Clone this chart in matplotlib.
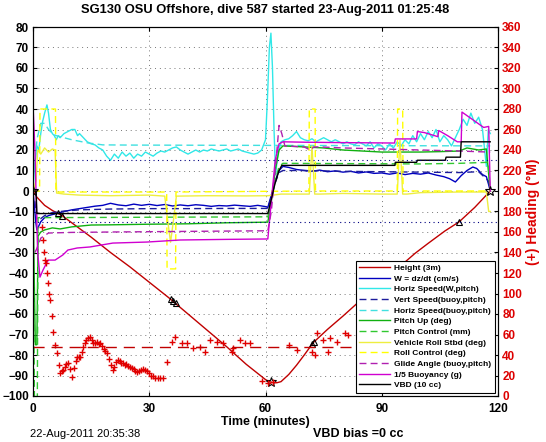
import matplotlib
matplotlib.use('Agg')
import matplotlib.pyplot as plt

plt.rcParams['font.family'] = ['Liberation Sans', 'DejaVu Sans']
plt.rcParams['font.weight'] = 'bold'
plt.rcParams['axes.titleweight'] = 'bold'
plt.rcParams['axes.labelweight'] = 'bold'

# ---- data (time in minutes) ----
height_t = [0, 1, 3, 5, 7.5, 10, 15, 20, 25, 30, 35, 40, 45, 50, 55, 58, 60, 61, 62, 63, 64,
            66, 68, 70, 72.3, 76, 80, 85, 90, 95, 98.6, 102, 106.3, 110, 114, 118]
height = [0, -3, -7, -9.5, -12, -15.5, -22.5, -30, -37, -44.5, -52, -60, -68, -76, -84.5, -89, -92,
          -93, -93.5, -93.5, -93, -89.5, -85, -80, -74, -67.5, -61, -52.5, -44.5, -36.3, -30.4,
          -25.5, -19.5, -15, -8, 0]

# event markers on the height trace
tri_t = [6.5, 7.5, 35.6, 36.2, 36.8, 72.0, 72.5, 110]
tri_v = [-10.5, -12, -52.5, -53.5, -54.5, -74.5, -73.5, -15]
star_t = [0, 61.5, 118]
star_v = [0, -93, 0]

# heading (right axis, deg M)
hd_t = [2.3, 2.5, 2.8, 3.1, 3.3, 3.6, 3.9, 4.1, 4.4, 4.8, 5.2, 5.7, 6.2, 6.6, 7.0, 7.4, 7.7, 8.2,
        8.6, 9.0, 9.5, 10.1, 10.6, 11.0, 11.4, 11.8, 12.1, 12.6, 13.0, 13.4, 13.8, 14.2, 14.7,
        15.1, 15.5, 16.0, 16.5, 17.0, 17.3, 17.8, 18.3, 18.7, 19.1, 19.6, 20.1, 20.6, 21.0, 21.5,
        21.9, 22.4, 22.8, 23.2, 23.7, 24.1, 24.6, 25.0, 25.5, 26.0, 26.4, 26.8, 27.3, 27.8, 28.3,
        28.9, 29.4, 30.0, 30.5, 31.0, 31.6, 32.2, 32.8, 33.5, 34.6, 35.9, 36.6, 38.5, 39.7, 41.3,
        43.1, 44.4, 45.7, 47.5, 49.0, 51.4, 51.6, 53.4, 54.7, 56.0, 59.1, 60.6, 62.0, 66.0, 68.0,
        72.0, 72.8, 73.3, 74.8, 76.1, 76.6, 78.5, 80.5, 81.3]
hd = [165, 152, 140, 133, 130, 120, 110, 100, 94, 78, 62, 50, 42, 30, 22, 24, 25, 28, 31, 32, 26,
      18.5, 27, 34, 38, 38, 38, 43, 48, 52, 55, 57, 58, 55, 52, 52, 53, 51, 52, 49, 46, 44, 42, 36,
      30, 25, 28, 33, 35, 34, 32, 32, 30, 31, 29, 28, 27, 26, 24, 23.5, 24, 25, 26, 25.5, 24, 22,
      20, 19.5, 18, 18, 17.5, 17.6, 33, 52.7, 57.6, 51.7, 51.7, 46.8, 47.8, 42.9, 54.6, 52.7, 51.7,
      42.9, 46.8, 54.6, 51.7, 51.7, 15, 12.7, 14, 50, 45, 42.9, 40, 61.5, 54.6, 42.9, 56.6, 52.7,
      61.5, 59.5]
heading_desired = 48

w_t = [0, 0.3, 0.7, 1, 1.5, 2, 3, 4, 5, 6, 8, 10, 12, 14, 16, 18, 20, 22, 24, 26, 28, 30, 32, 34,
       36, 38, 40, 42, 44, 46, 48, 50, 52, 54, 56, 58, 60, 60.6, 61.5, 62.5, 63.5, 64.5, 66, 68,
       70, 72, 74, 76, 78, 80, 82, 84, 86, 88, 90, 92, 94, 96, 98, 100, 102, 104, 106, 107.5, 109,
       110.5, 112, 113.5, 114.5, 116, 117, 117.6, 118]
w = [0, -6, -15, -19, -17, -15, -13, -12, -11.5, -11, -10, -9.2, -8.6, -8.0, -7.4, -7.0, -6.0,
     -6.8, -7.2, -6.4, -7.0, -6.5, -7.1, -6.6, -7.3, -6.8, -7.2, -6.7, -7.0, -7.5, -7.1, -7.3,
     -6.9, -7.2, -7.5, -7.0, -7.6, -8.0, -2, 5, 10, 12, 11.5, 10.5, 10, 9.6, 10.2, 9.4, 9.8, 9.2,
     9.6, 8.8, 9.3, 8.6, 8.8, 8.2, 8.8, 8.0, 8.6, 8.2, 8.8, 7.8, 7.0, 6.0, 4.4, 7.5, 10, 11.7, 11,
     8, 7, 3, 0]
w_limit = 15

vs_t = [0.5, 1, 2, 3, 5, 8, 12, 20, 30, 40, 50, 60.6, 61.5, 62.5, 63.5, 64.5, 70, 80, 90, 100,
        110, 115, 117.5, 118]
vs = [-5, -14, -13.5, -12, -10.5, -9.8, -9.2, -8.8, -8.6, -8.6, -8.5, -8.5, -3, 4, 9, 10, 10, 9.6,
      9.4, 9.2, 9.0, 9.4, 5, 0]

hs_t = ([0, 0.5, 1, 1.5, 2, 2.5, 3, 3.6, 4, 4.5, 5, 5.5, 6, 6.5, 7, 8, 9, 10, 10.8, 11.5]
        + list(range(12, 60))
        + [60, 60.5, 61, 61.4, 61.8, 62.2, 62.6, 63.2, 64]
        + list(range(65, 118))
        + [117.5, 118])
hs = ([0, 15, 22, 20, 28, 34, 38, 42, 38, 30, 28, 27, 25, 27, 26, 28, 29, 30, 30, 27]
      + [28, 26, 24, 23, 22.5, 21, 20, 17, 15, 18, 16, 19, 17, 18.5, 16, 18, 17, 19, 18, 17,
         18.5, 19.5, 19, 20, 21, 21.5, 20, 19, 18, 19, 20, 19, 20, 19.5, 20.5, 20, 19.5, 20,
         20.5, 19.5, 20, 20.5, 19.5, 19, 18.5, 18, 18.5, 20]
      + [25, 45, 70, 77, 60, 30, 8, 18, 24]
      + [25, 25.5, 27, 29, 26, 25, 24.5, 25.5, 24, 25,
         26, 25, 24, 25, 24, 23, 24, 23, 22.5, 24,
         23, 22, 24, 21, 23, 22, 20, 23, 21, 24,
         22, 25, 23, 27, 24, 28, 25, 29, 26, 30,
         24, 27, 25, 22, 26, 30, 35, 32, 38, 33,
         36, 30, 12]
      + [30, 28])

hb_t = [0.5, 1, 2, 3, 4, 5, 6, 8, 10, 14, 18, 25, 118]
hb = [10, 25, 33, 33, 30, 28, 27, 26, 25, 23.5, 22.5, 22.4, 22]

pu_t = [0, 0.3, 0.6, 1.0, 1.3, 2, 3, 5, 7, 10, 15, 20, 30, 40, 50, 60.6, 61.5, 62.5, 63.5, 64.5,
        70, 75, 80, 85, 90, 100, 105, 110, 112, 115, 117, 117.5, 118]
pu = [0, -40, -75, -75, -22, -20, -19, -18, -18.5, -17.5, -16.6, -16.5, -16.2, -16, -15.5, -15.2,
      -5, 10, 20, 22, 21.5, 21, 20, 19.5, 19, 19, 19.2, 19.5, 21, 20, 20.5, 10, 0]

pc_t = [0, 0.4, 1.1, 1.3, 60.6, 61.5, 62.5, 63.5, 64.5, 100, 110, 117.5, 118]
pc = [0, -110, -110, -13, -12.6, -5, 5, 12, 13.5, 13.2, 13.5, 14, 0]

vr_t = [0, 0.8, 1.2, 2, 3, 4, 5, 5.7, 6.1, 8, 12, 20, 30, 34, 34.8, 35.5, 36.2, 37, 45, 55, 60.6,
        62, 64, 70, 71.3, 72, 72.7, 74, 80, 90, 94, 94.7, 95.4, 96.5, 100, 110, 117, 117.6, 118]
vr = [0, 5, 20, 18, 21, 19, 20.5, 20, -1, -1.5, -2, -2.3, -2, -2.5, -15, -25, -15, -2.5, -2.3,
      -2.4, -2.3, -2, -1.5, -1.5, -1.5, 22, -1.5, -1.5, -1.2, -1.5, -1.5, 25, -1.5, -1.5, -0.8,
      -0.5, -0.5, -10, -10]

rc_t = [0, 1.7, 1.8, 5.8, 5.9, 34.5, 34.6, 36.8, 36.9, 71.2, 71.3, 72.8, 72.9, 94.0, 94.1, 95.4,
        95.5, 118]
rc = [0, 0, 40, 40, -0.5, -0.5, -38, -38, -0.5, 0, 40, 40, 0, 0, 40, 40, 0, 0]

ga_t = [0.5, 1, 2, 4, 10, 20, 40, 60.6, 61.5, 62.5, 63.5, 64.2, 65, 70, 71.5, 72.5, 74, 80, 90,
        100, 110, 117.5, 118]
ga = [-30, -28, -23, -20.5, -20.2, -20, -19.7, -19.4, -10, 10, 32, 28, 22, 21.5, 20, 21.5, 21.5,
      21, 20.5, 20, 19.5, 19, 19]

bu_t = [0, 0.5, 1.2, 1.8, 2.6, 3.9, 5.7, 7.7, 9, 11.4, 14.7, 20.6, 29.4, 38, 50, 60.6, 61.5, 62.5,
        63.5, 64.5, 70, 80, 93.3, 93.5, 99, 99.2, 101, 104.5, 104.7, 107, 109.5, 110.5, 110.7,
        113.7, 116.3, 117.6, 118]
bu = [42, 20, -30, -42, -38.5, -33.7, -33.7, -31.2, -28.8, -27.8, -27.3, -25.4, -24.9, -23.9,
      -23.6, -23.4, -5, 15, 23, 24, 23.8, 23.6, 23.4, 25.4, 25.4, 29, 28.5, 26.5, 29.5, 27, 24,
      24, 38.5, 34.5, 31, 31.5, 0]

vbd_t = [0, 0.8, 1.0, 60.6, 61.5, 62.5, 63.5, 64.2, 93.4, 93.5, 99, 99.2, 106.4, 106.6, 110.3,
         110.5, 118]
vbd = [0, 0, -11, -11, -4, 4, 10, 12.5, 12.5, 14, 14, 15, 15, 16.5, 16.5, 24, 24]

# ---- figure ----
fig = plt.figure(figsize=(5.46, 4.42), dpi=100)
ax = fig.add_axes([33 / 546, 1 - 396 / 442, 465 / 546, 369 / 442])
ax2 = ax.twinx()

dash = (5, 3)
lw = 1.0
h = []
h += ax.plot(height_t, height, '-', color='#c00000', lw=lw, label='Height (3m)')
h += ax.plot(w_t, w, '-', color='#0000c0', lw=lw, label='W = dz/dt (cm/s)')
h += ax.plot(hs_t, hs, '-', color='#30e8e8', lw=lw, label='Horiz Speed(W,pitch)')
h += ax.plot(vs_t, vs, '--', dashes=dash, color='#1c1c9c', lw=lw, label='Vert Speed(buoy,pitch)')
h += ax.plot(hb_t, hb, '--', dashes=dash, color='#40e0e0', lw=lw, label='Horiz Speed(buoy,pitch)')
h += ax.plot(pu_t, pu, '-', color='#10b010', lw=lw, label='Pitch Up (deg)')
h += ax.plot(pc_t, pc, '--', dashes=dash, color='#30c830', lw=lw, label='Pitch Control (mm)')
h += ax.plot(vr_t, vr, '-', color='#eeee40', lw=lw, label='Vehicle Roll Stbd (deg)')
h += ax.plot(rc_t, rc, '--', dashes=dash, color='#ffff00', lw=lw, label='Roll Control (deg)')
h += ax.plot(ga_t, ga, '--', dashes=dash, color='#b020b0', lw=lw, label='Glide Angle (buoy,pitch)')
h += ax.plot(bu_t, bu, '-', color='#d000d0', lw=lw, label='1/5 Buoyancy (g)')
h += ax.plot(vbd_t, vbd, '-', color='k', lw=lw, label='VBD (10 cc)')

ax.plot(tri_t, tri_v, '^', mfc='none', mec='k', ms=5, mew=0.8)
ax.plot(star_t, star_v, '*', mfc='none', mec='k', ms=7, mew=0.8)

ax.axhline(w_limit, color='#000080', ls=(0, (1, 3)), lw=0.8)
ax.axhline(-w_limit, color='#000080', ls=(0, (1, 3)), lw=0.8)

ax2.plot(hd_t, hd, '+', color='#e00000', ms=4, mew=1)
ax2.axhline(heading_desired, color='#c00000', ls='--', dashes=(8, 5), lw=1)

ax.set_xlim(0, 120)
ax.set_ylim(-100, 80)
ax.set_xticks([0, 30, 60, 90, 120])
ax.set_yticks(range(-100, 81, 10))
ax.grid(True, ls=(0, (1, 4)), color='#777777', lw=0.7)
ax.set_axisbelow(True)
ax.tick_params(direction='in', length=3, labelsize=8.5, top=True, pad=3)
ax.tick_params(axis='x', pad=5)

ax2.set_ylim(0, 360)
ax2.set_yticks(range(0, 361, 20))
ax2.tick_params(axis='y', direction='in', length=3, labelsize=8.5, labelcolor='#dd0000', pad=3)
ax2.set_ylabel('(+) Heading (°M)', color='#dd0000', fontsize=10, labelpad=3)

ax.set_xlabel('Time (minutes)', fontsize=9, labelpad=1)
ax.set_title('SG130 OSU Offshore, dive 587 started 23-Aug-2011 01:25:48', fontsize=9.3, pad=10)

leg = ax2.legend(h, [l.get_label() for l in h], loc='lower right', fontsize=6,
                 handlelength=3.7, handletextpad=0.5, labelspacing=0.34, borderpad=0.4,
                 borderaxespad=0.4, fancybox=False, framealpha=1)
leg.get_frame().set_edgecolor('k')
leg.get_frame().set_linewidth(0.8)

fig.text(30 / 546, 1 - 434 / 442, '22-Aug-2011 20:35:38', fontsize=8, fontweight='normal',
         va='center', ha='left')
fig.text(358 / 546, 1 - 434 / 442, 'VBD bias =0 cc', fontsize=9, va='center', ha='center')

fig.savefig('out.png', dpi=100)
